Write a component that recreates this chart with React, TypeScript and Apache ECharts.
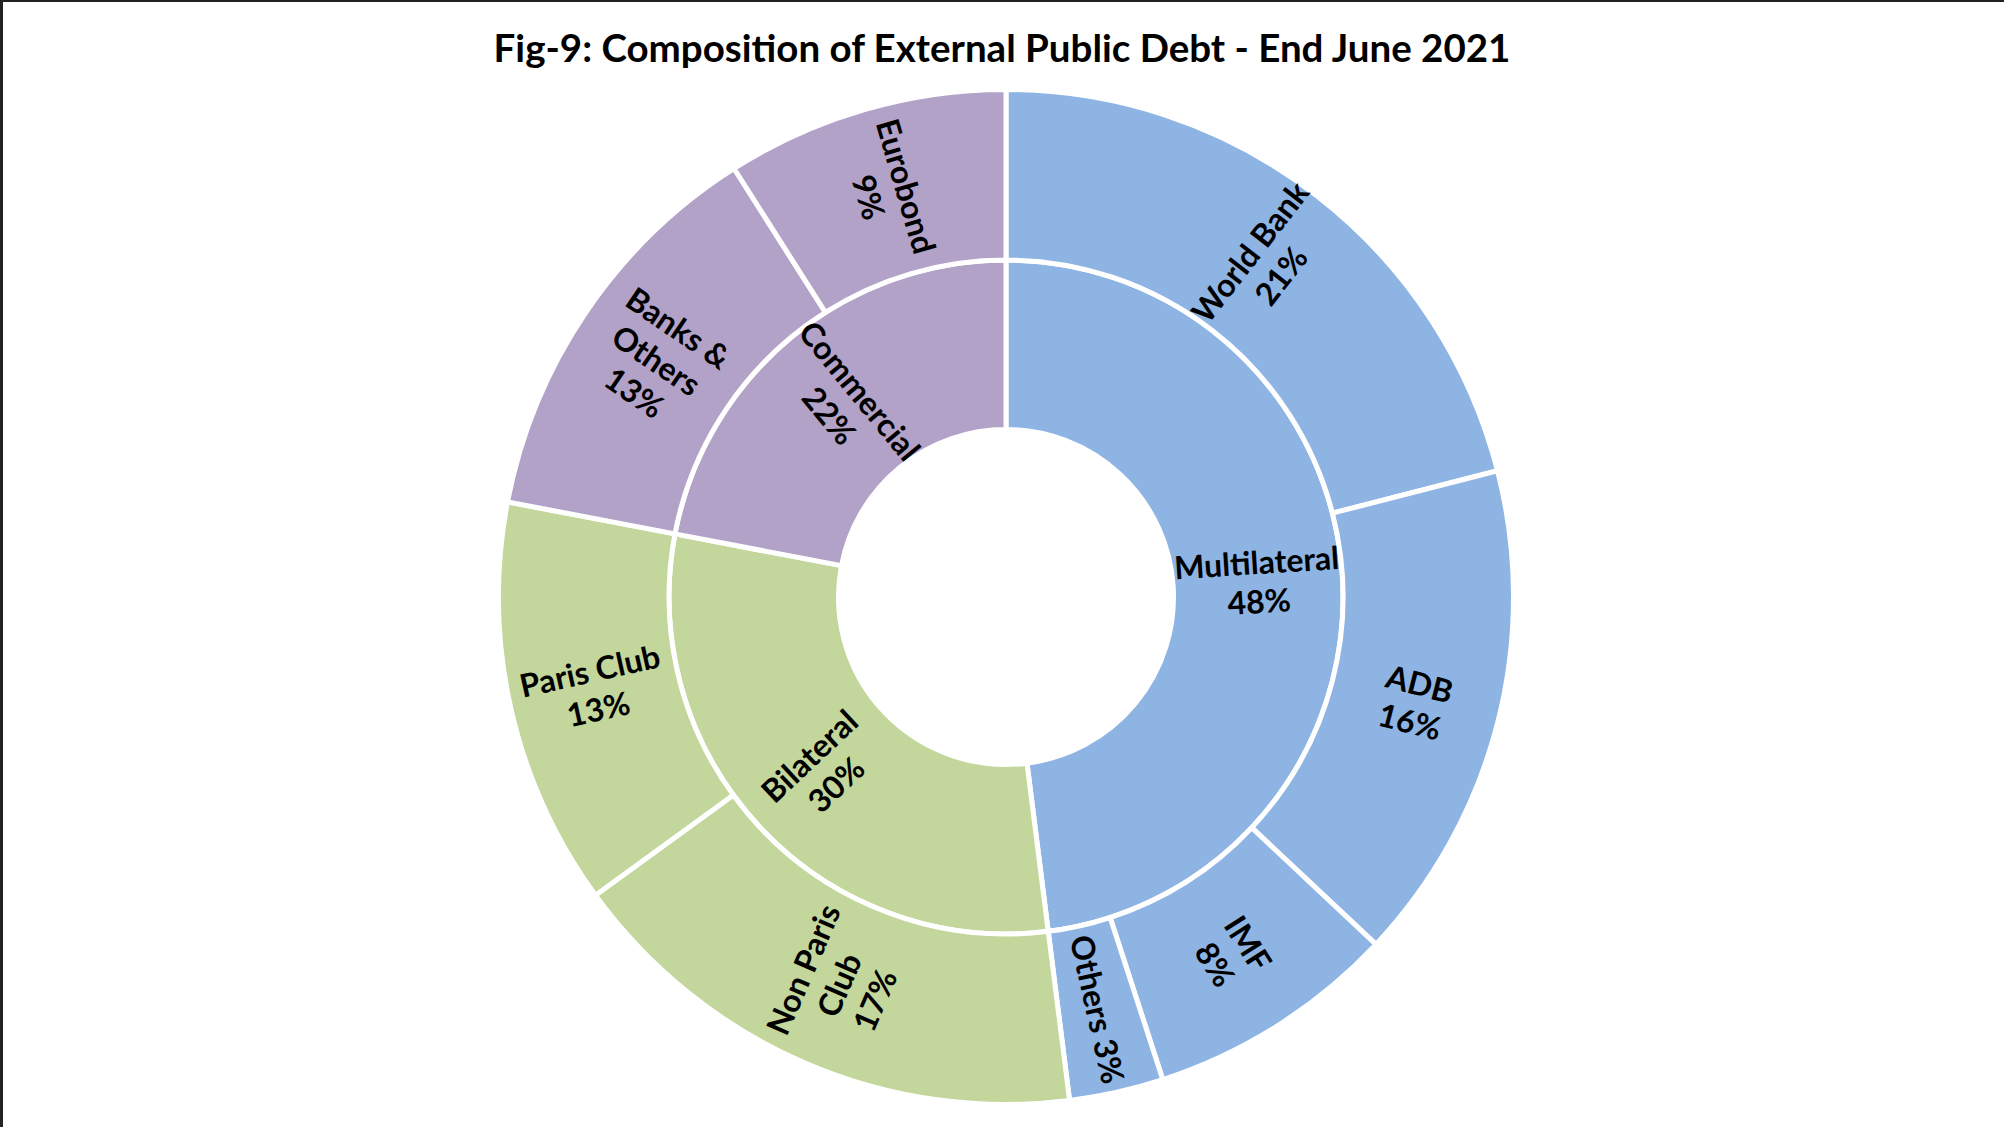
import React, { useEffect, useRef } from 'react';
import * as echarts from 'echarts';

const TITLE = 'Fig-9: Composition of External Public Debt - End June 2021';

const groupNames = ['Multilateral', 'Bilateral', 'Commercial'];
const groupValues = [48, 30, 22];
const groupColors = ['#8EB4E3', '#C3D69B', '#B3A2C7'];

const multilateralNames = ['World Bank', 'ADB', 'IMF', 'Others'];
const multilateralValues = [21, 16, 8, 3];
const bilateralNames = ['Non Paris Club', 'Paris Club'];
const bilateralValues = [17, 13];
const commercialNames = ['Banks & Others', 'Eurobond'];
const commercialValues = [13, 9];

const labelBreaks: Record<string, string> = {
  'Non Paris Club': 'Non Paris\nClub',
  'Banks & Others': 'Banks &\nOthers',
};
const inlinePercent = ['Others'];

const childNames = [multilateralNames, bilateralNames, commercialNames];
const childValues = [multilateralValues, bilateralValues, commercialValues];

export default function App() {
  const ref = useRef<HTMLDivElement>(null);
  useEffect(() => {
    if (!ref.current) return;
    const chart = echarts.init(ref.current, undefined, { renderer: 'svg' });
    const data = groupNames.map((g, i) => ({
      name: g,
      value: groupValues[i],
      itemStyle: { color: groupColors[i] },
      children: childNames[i].map((n, j) => ({
        name: n,
        value: childValues[i][j],
        itemStyle: { color: groupColors[i] },
      })),
    }));
    const font = 'Lato';
    chart.setOption({
      animation: false,
      backgroundColor: '#ffffff',
      title: {
        text: TITLE,
        left: 'center',
        top: 22,
        textStyle: { fontFamily: font, fontWeight: 'bold', fontSize: 38.5, color: '#000' },
      },
      graphic: [
        { type: 'rect', shape: { x: 0, y: 0, width: 2004, height: 2 }, style: { fill: '#222' } },
        { type: 'rect', shape: { x: 0, y: 0, width: 3, height: 1127 }, style: { fill: '#222' } },
      ],
      series: [
        {
          type: 'sunburst',
          center: [1006, 597],
          sort: null,
          nodeClick: false,
          startAngle: 90,
          emphasis: { disabled: true },
          itemStyle: { borderColor: '#ffffff', borderWidth: 5 },
          label: {
            rotate: 'radial',
            color: '#000',
            fontFamily: font,
            fontWeight: 'bold',
            fontSize: 32,
            lineHeight: 39,
            align: 'center',
            formatter: (p: any) => {
              const n = labelBreaks[p.name] ?? p.name;
              const sep = inlinePercent.includes(p.name) ? ' ' : '\n';
              return n + sep + p.value + '%';
            },
          },
          levels: [
            {},
            { r0: 167.5, r: 337 },
            { r0: 337, r: 507.5 },
          ],
          data,
        },
      ],
    });
    return () => chart.dispose();
  }, []);
  return (
    <div
      ref={ref}
      style={{ position: 'fixed', left: 0, top: 0, width: 2004, height: 1127 }}
    />
  );
}
